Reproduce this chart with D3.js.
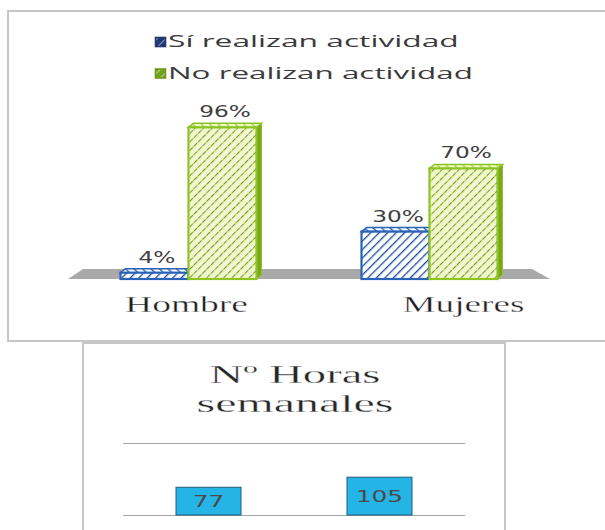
<!DOCTYPE html>
<html>
<head>
<meta charset="utf-8">
<script src="https://cdn.jsdelivr.net/npm/d3@7"></script>
<style>
  html, body { margin: 0; padding: 0; background: #ffffff; }
  svg { display: block; }
</style>
</head>
<body>
<svg id="chart" width="605" height="530"></svg>
<script>
// ---------- data ----------
const categories = ["Hombre", "Mujeres"];
const seriesNames = ["Sí realizan actividad", "No realizan actividad"];
const siValues = [4, 30];
const noValues = [96, 70];
const valueLabels = ["4%", "30%", "96%", "70%"];
const hoursTitle = ["Nº Horas", "semanales"];
const hoursCategories = ["Hombre", "Mujeres"];
const hoursValues = [77, 105];
const hoursTicks = [0, 200];

// ---------- helpers ----------
const svg = d3.select("#chart");

function stretchAt(sel, f) {
  sel.each(function () {
    const x = +this.getAttribute("x") || 0, y = +this.getAttribute("y") || 0;
    d3.select(this).attr("transform", `translate(${x},${y}) scale(${f},1) translate(${-x},${-y})`);
  });
}
function fitWidth(sel, w) {
  sel.each(function () {
    const n = this.getComputedTextLength();
    stretchAt(d3.select(this), w / n);
  });
}
function thin(sel, sw) {
  sel.attr("stroke", "#ffffff").attr("stroke-width", sw).attr("paint-order", "fill");
}

// ---------- patterns ----------
const defs = svg.append("defs");
function hatch(id, bg, line, lineW, dark, angle) {
  const p = defs.append("pattern").attr("id", id)
    .attr("patternUnits", "userSpaceOnUse").attr("width", 6).attr("height", 6)
    .attr("patternTransform", `rotate(${angle})`);
  p.append("rect").attr("width", 6).attr("height", 6).attr("fill", bg);
  p.append("line").attr("x1", 0).attr("y1", 0).attr("x2", 0).attr("y2", 6)
    .attr("stroke", line).attr("stroke-width", lineW);
  if (dark) {
    p.append("line").attr("x1", 0.3).attr("y1", 0).attr("x2", 0.3).attr("y2", 6)
      .attr("stroke", dark).attr("stroke-width", 0.8).attr("stroke-dasharray", "2,2");
  }
}
hatch("blueFront", "#ffffff", "#2a5fb5", 2.7, "#17397a", 45);
hatch("blueTop", "#ffffff", "#2a5fb5", 2.8, null, -45);
hatch("greenFront", "#f1f8d0", "#b2d84a", 2.4, "#5a6a35", 45);
hatch("greenTop", "#f1f8d0", "#a2cc3a", 2.4, null, -45);
hatch("blueKey", "#1f3a70", "#dfe8f5", 1.2, null, 45);
hatch("greenKey", "#74a01c", "#eef6d5", 1.2, null, 45);

// ---------- top panel ----------
svg.append("rect").attr("x", 8).attr("y", 11).attr("width", 620).attr("height", 330)
  .attr("fill", "#ffffff").attr("stroke", "#c6c6c6").attr("stroke-width", 2);

const seriesStyle = [
  { front: "url(#blueFront)", top: "url(#blueTop)", side: "#1f4f99", stroke: "#2a62b5", key: "url(#blueKey)", box: "#1f3a70" },
  { front: "url(#greenFront)", top: "url(#greenTop)", side: "#7ea51f", stroke: "#8cc420", key: "url(#greenKey)", box: "#6f9a1c" }
];

// legend
const legendWidths = [291, 305];
const legend = svg.append("g");
seriesNames.forEach((name, i) => {
  const cy = 42 + i * 31.5;
  legend.append("rect").attr("x", 155.5).attr("y", cy - 4.5).attr("width", 10).attr("height", 9)
    .attr("fill", seriesStyle[i].key)
    .attr("stroke", seriesStyle[i].box).attr("stroke-width", 1.6);
  legend.append("text").attr("x", 168).attr("y", cy + 5.5)
    .attr("font-family", "'Open Sans', 'DejaVu Sans', sans-serif").attr("font-size", 15.5)
    .attr("fill", "#3a3a3a").text(name)
    .call(fitWidth, legendWidths[i]);
});

// scales
const x0 = d3.scaleBand().domain(categories).range([70, 552]);
const x1 = d3.scaleBand().domain(seriesNames).range([-70, 66]);
const y = d3.scaleLinear().domain([0, 100]).range([279, 121]);
const DX = 5, DY = 4;

// floor
const r = x0.range();
svg.append("polygon")
  .attr("points", [[r[0] - 2, y(0)], [r[1] - 2, y(0)], [r[1] - 20, y(0) - 10], [r[0] + 13, y(0) - 10]].join(" "))
  .attr("fill", "#a9a9a9");

// bars
const barData = [];
categories.forEach((c, ci) => {
  barData.push({ cat: c, s: 0, v: siValues[ci], label: valueLabels[ci] });
  barData.push({ cat: c, s: 1, v: noValues[ci], label: valueLabels[ci + 2] });
});
const bars = svg.append("g");
[0, 1].forEach(s => {
  barData.filter(d => d.s === s).forEach(d => {
    const cx = x0(d.cat) + x0.bandwidth() / 2;
    const x = cx + x1(seriesNames[d.s]);
    const w = x1.bandwidth();
    const yt = y(d.v), yb = y(0);
    const st = seriesStyle[d.s];
    const g = bars.append("g");
    g.append("polygon").attr("points", [[x + w, yt], [x + w + DX, yt - DY], [x + w + DX, yb - DY], [x + w, yb]].join(" "))
      .attr("fill", st.side).attr("stroke", st.stroke).attr("stroke-width", 1);
    g.append("polygon").attr("points", [[x, yt], [x + DX, yt - DY], [x + w + DX, yt - DY], [x + w, yt]].join(" "))
      .attr("fill", st.top).attr("stroke", st.stroke).attr("stroke-width", 1.5);
    g.append("rect").attr("x", x).attr("y", yt).attr("width", w).attr("height", yb - yt)
      .attr("fill", st.front).attr("stroke", st.stroke).attr("stroke-width", 2.2);
  });
});
// value labels
barData.forEach(d => {
  const cx = x0(d.cat) + x0.bandwidth() / 2 + x1(seriesNames[d.s]) + (x1.bandwidth() + DX) / 2;
  svg.append("text").attr("x", cx).attr("y", y(d.v) - DY - 6)
    .attr("text-anchor", "middle")
    .attr("font-family", "'DejaVu Sans', Verdana, sans-serif").attr("font-size", 15.5)
    .attr("fill", "#404040").text(d.label)
    .call(stretchAt, 1.5);
});

// category axis
const xLab = d3.scaleBand().domain(categories).range([48, 602]);
const catWidths = [123, 122];
const axisG = svg.append("g").attr("transform", `translate(0,${y(0)})`)
  .call(d3.axisBottom(xLab).tickSize(0).tickPadding(17));
axisG.select(".domain").remove();
axisG.selectAll("text")
  .attr("font-family", "'Liberation Serif', 'Times New Roman', serif").attr("font-size", 23)
  .attr("fill", "#1e1e1e").call(thin, 0.3)
  .each(function (d, i) { fitWidth(d3.select(this), catWidths[i]); });

// ---------- bottom panel ----------
svg.append("rect").attr("x", 83).attr("y", 343).attr("width", 422).attr("height", 220)
  .attr("fill", "#ffffff").attr("stroke", "#c6c6c6").attr("stroke-width", 2);

const titleWidths = [171, 197];
hoursTitle.forEach((t, i) => {
  svg.append("text").attr("x", 295).attr("y", 383 + i * 29.5)
    .attr("text-anchor", "middle")
    .attr("font-family", "'Liberation Serif', 'Times New Roman', serif").attr("font-size", 25.5)
    .attr("fill", "#262626").text(t).call(thin, 0.3)
    .call(fitWidth, titleWidths[i]);
});

const hx = d3.scaleBand().domain(hoursCategories).range([123, 465]);
const hy = d3.scaleLinear().domain([0, 200]).range([515, 443]);

const grid = svg.append("g").attr("transform", "translate(123,0)")
  .call(d3.axisLeft(hy).tickValues(hoursTicks).tickSize(-(465 - 123)).tickFormat(""));
grid.select(".domain").remove();
grid.selectAll("line").attr("stroke", "#a6a6a6").attr("stroke-width", 1);

const bw = hx.bandwidth() * 0.38;
hoursCategories.forEach((c, i) => {
  const cx = hx(c) + hx.bandwidth() / 2;
  const yt = hy(hoursValues[i]);
  svg.append("rect").attr("x", cx - bw / 2).attr("y", yt).attr("width", bw).attr("height", hy(0) - yt)
    .attr("fill", "#25b4e6").attr("stroke", "#245a78").attr("stroke-width", 1);
  svg.append("text").attr("x", cx).attr("y", (yt + hy(0)) / 2 + 6)
    .attr("text-anchor", "middle")
    .attr("font-family", "'DejaVu Sans', Verdana, sans-serif").attr("font-size", 16.5)
    .attr("fill", "#4a4a4a").text(hoursValues[i])
    .call(stretchAt, 1.5);
});
</script>
</body>
</html>
